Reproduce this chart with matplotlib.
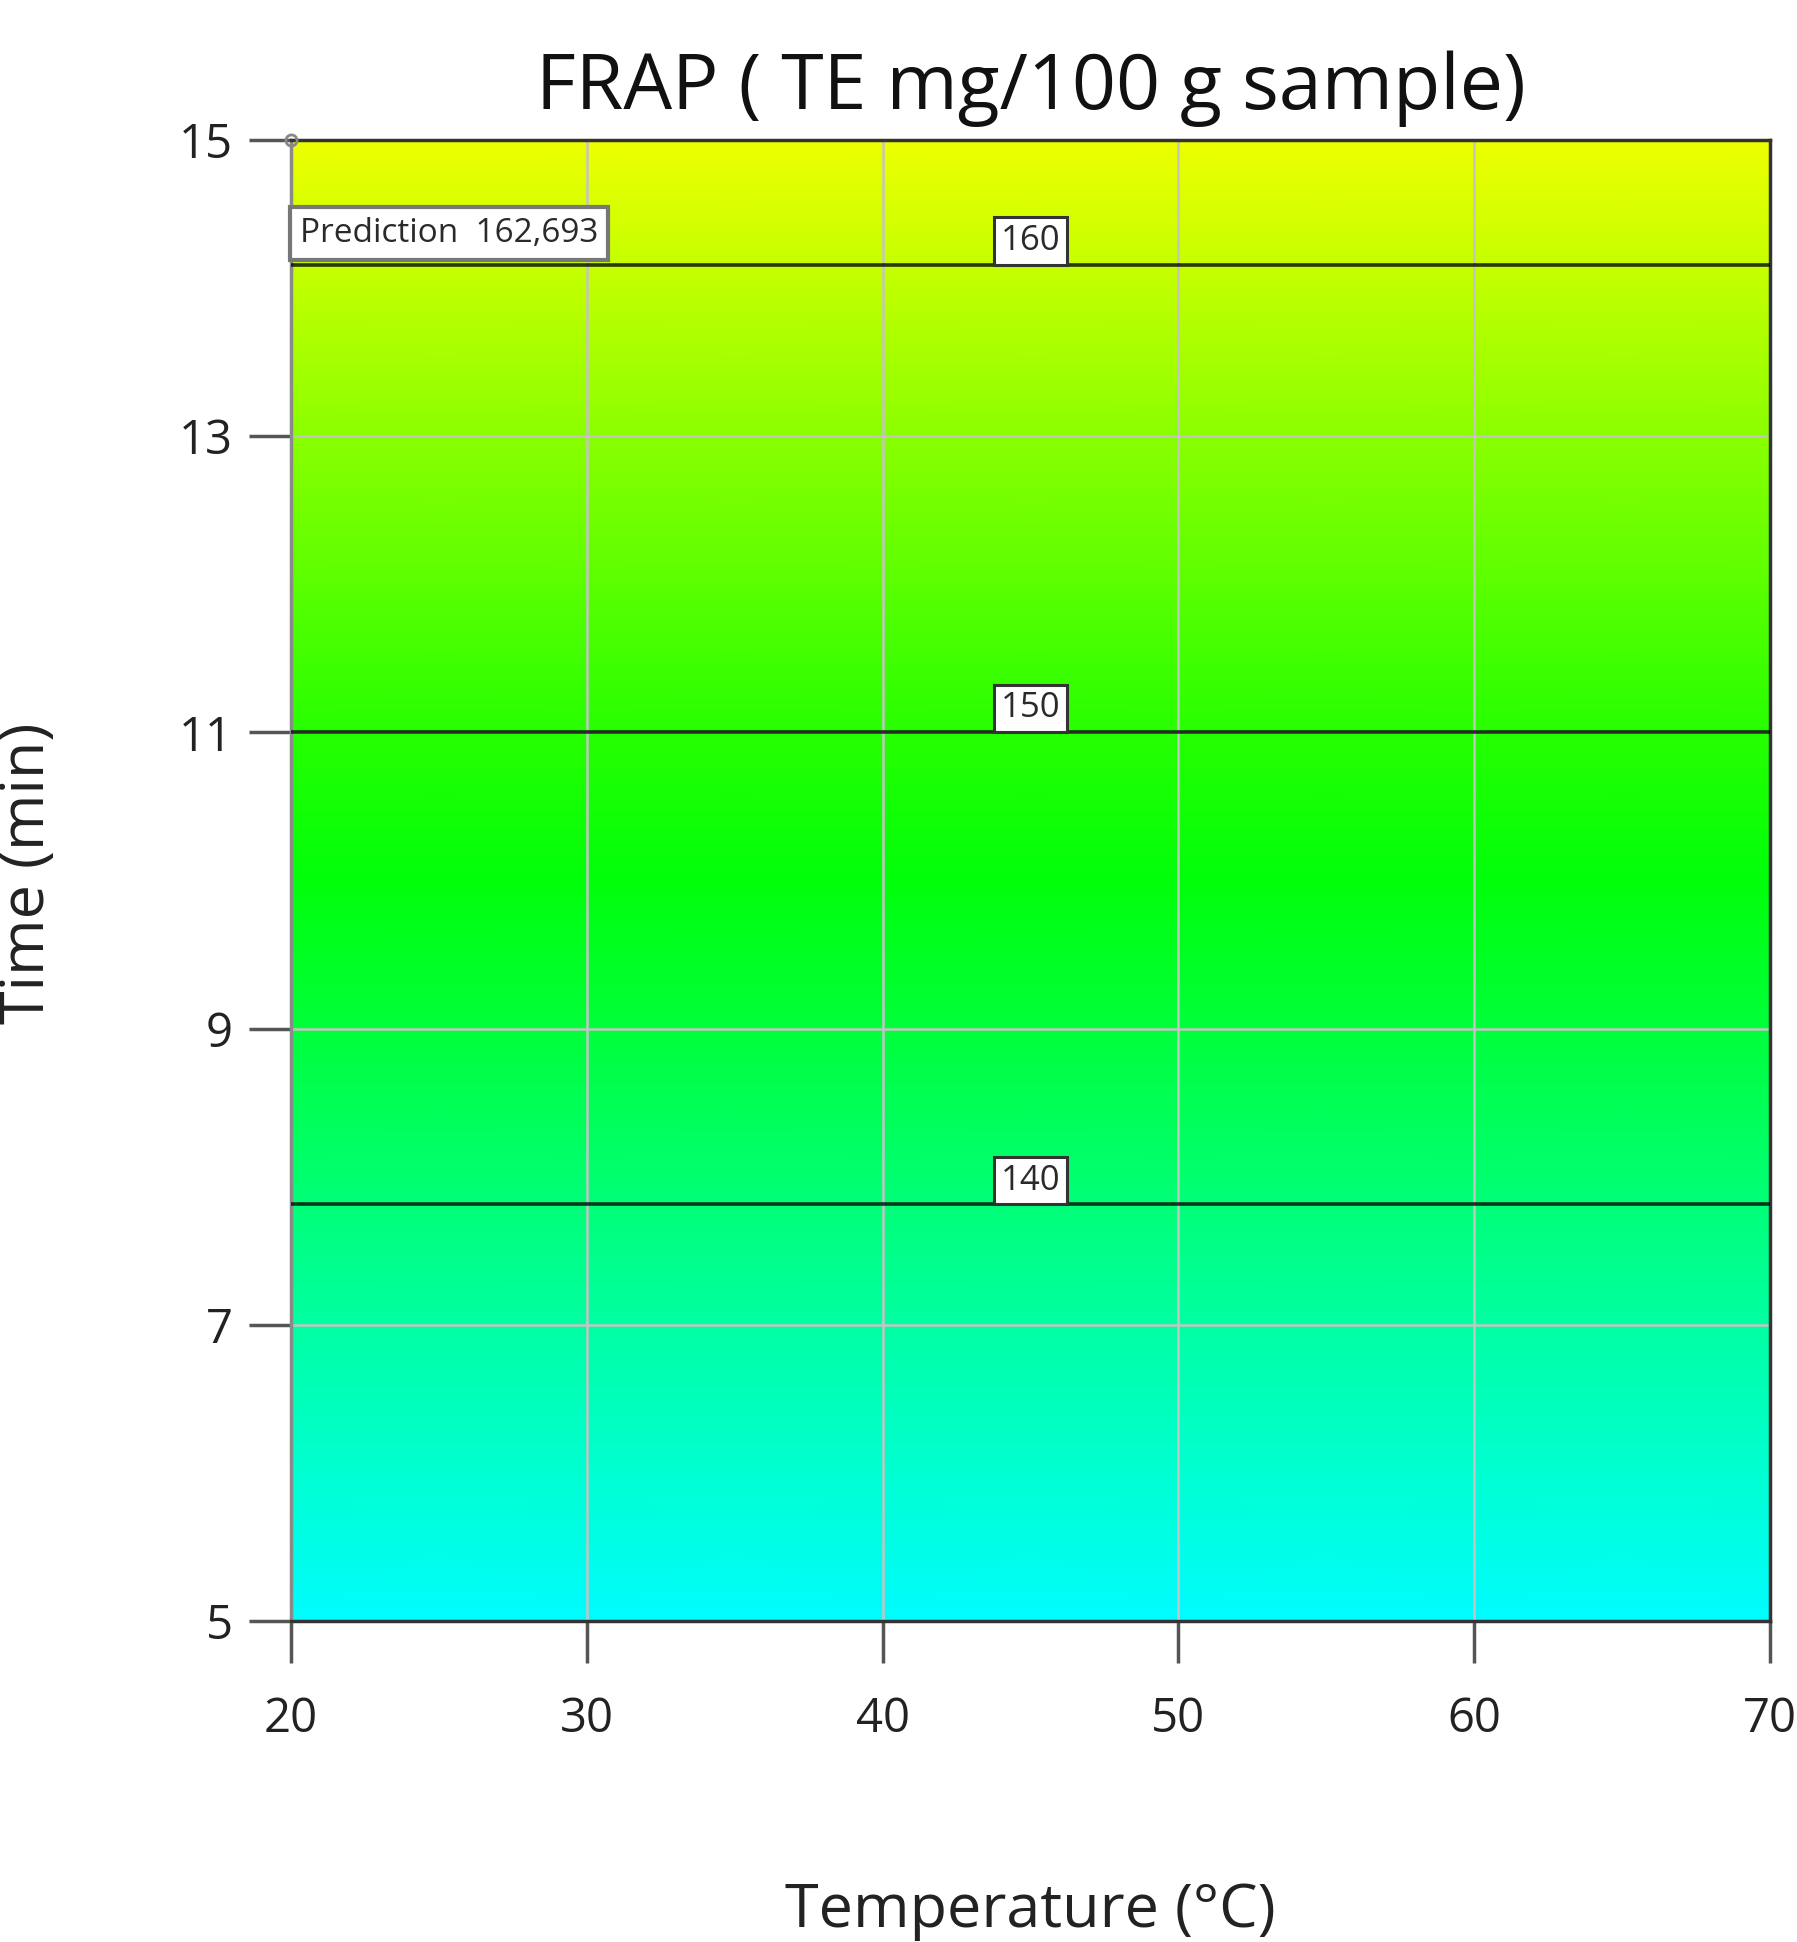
import matplotlib
matplotlib.use("Agg")
import matplotlib.pyplot as plt
import numpy as np
from matplotlib.colors import LinearSegmentedColormap, Normalize
from matplotlib.transforms import ScaledTranslation

# values (response depends only on time)
temperature = [20, 30, 40, 50, 60, 70]
time_min = [5, 6, 7, 8, 9, 10, 11, 12, 13, 14, 15]
frap_by_time = [131.1, 134.2, 137.4, 140.6, 143.8, 146.9, 150.0, 153.2, 156.3, 159.5, 162.7]
time_ticks = [5, 7, 9, 11, 13, 15]
contour_levels = [140, 150, 160]
prediction_point = (20, 15)
prediction_value = 162.693

plt.rcParams['font.family'] = ['Open Sans', 'DejaVu Sans']

T, t = np.meshgrid(temperature, time_min)
Z = np.tile(np.array(frap_by_time)[:, None], (1, len(temperature)))

# Design-Expert style blue-cyan-green-yellow-red
cmap = LinearSegmentedColormap.from_list(
    'de', ['#0000ff', '#00ffff', '#00ff00', '#ffff00', '#ff0000'])
norm = Normalize(vmin=115.1, vmax=180.0)

fig = plt.figure(figsize=(17.97, 19.42), dpi=100)
ax = fig.add_axes([0.162, 0.1653, 0.823, 0.7626])

ax.pcolormesh(T, t, Z, shading='gouraud', cmap=cmap, norm=norm, zorder=1)
ax.grid(True, color='#c4c4c4', lw=1.8)

cs = ax.contour(T, t, Z, levels=contour_levels, colors='black',
                linewidths=2.6, alpha=0.78, zorder=3)
labels = ax.clabel(cs, fmt='%d', inline=False, fontsize=25,
                   manual=[(45, lv) for lv in [8, 11, 14]])
for lab in labels:
    lab.set_va('bottom')
    lab.set_color('#2a2a2a')
    lab.set_bbox(dict(boxstyle='square,pad=0.2', fc='white', ec='#333333', lw=2.2))
    lab.set_transform(lab.get_transform() + ScaledTranslation(0, 5 / 72, fig.dpi_scale_trans))
    lab.set_zorder(5)

ax.annotate(f"Prediction  {prediction_value:.3f}".replace('.', ','),
            xy=prediction_point, xytext=(9, -93), textcoords='offset pixels',
            ha='left', va='center', fontsize=24, color='#2a2a2a', zorder=6,
            bbox=dict(boxstyle='square,pad=0.3', fc='white', ec='#777777', lw=3))
ax.plot(*prediction_point, 'o', ms=8, mfc='none', mec='#888888', mew=2,
        clip_on=False, zorder=7)

ax.set_xlim(20, 70)
ax.set_ylim(5, 15)
ax.set_xticks(temperature)
ax.set_yticks(time_ticks)
ax.tick_params(direction='out', length=30, width=2.5, color='#555555',
               labelsize=34, labelcolor='#222222')
ax.tick_params(axis='x', pad=24)
ax.tick_params(axis='y', pad=12)
for s in ax.spines.values():
    s.set_color('#333333')
    s.set_linewidth(2.5)
ax.spines['left'].set_color('#8a8a8a')

ax.set_xlabel('Temperature (°C)', fontsize=44, color='#222222')
ax.xaxis.set_label_coords(0.5, -0.196)
ax.xaxis.label.set_va('center')
ax.set_ylabel('Time (min)', fontsize=44, color='#222222')
ax.yaxis.set_label_coords(-0.178, 0.505)
ax.yaxis.label.set_va('center')

ax.set_title('FRAP ( TE mg/100 g sample)', fontsize=55.5, color='#111111',
             y=1.029, va='center')

fig.savefig('out.png', dpi=100)
